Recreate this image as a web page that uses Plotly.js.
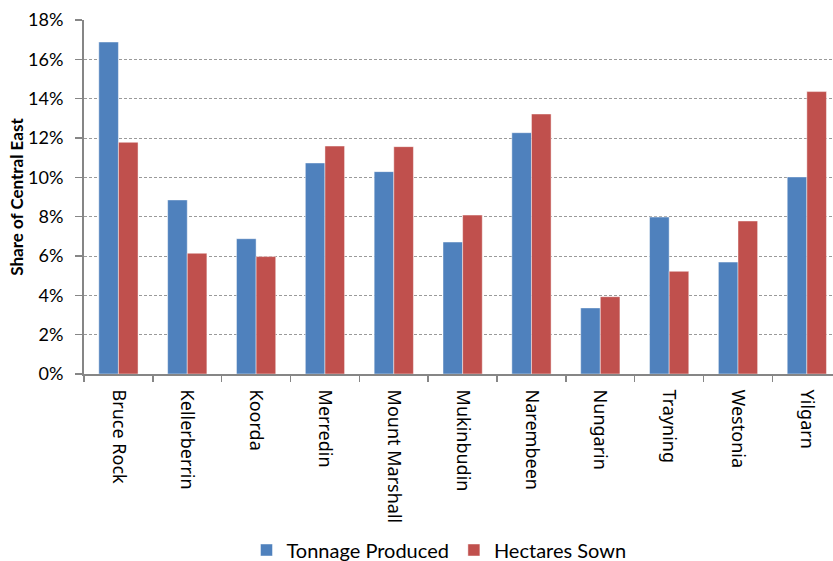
<!DOCTYPE html>
<html>
<head>
<meta charset="utf-8">
<script src="https://cdn.plot.ly/plotly-3.0.1.min.js"></script>
<style>
  html, body { margin: 0; padding: 0; background: #fff; }
  #chart { width: 833px; height: 561px; }
</style>
</head>
<body>
<div id="chart"></div>
<script>
// Shire names across the Central East region
const shires = ["Bruce Rock", "Kellerberrin", "Koorda", "Merredin", "Mount Marshall",
                "Mukinbudin", "Narembeen", "Nungarin", "Trayning", "Westonia", "Yilgarn"];

// Share of the Central East total (fractions)
const tonnageProduced = [0.1688, 0.0885, 0.0688, 0.1073, 0.1029, 0.0671, 0.1227, 0.0336, 0.0798, 0.0569, 0.1002];
const hectaresSown    = [0.1178, 0.0614, 0.0597, 0.1159, 0.1156, 0.0808, 0.1322, 0.0393, 0.0522, 0.0778, 0.1436];

const yTicks = [0, 0.02, 0.04, 0.06, 0.08, 0.10, 0.12, 0.14, 0.16, 0.18];
const yTickText = ["0%", "2%", "4%", "6%", "8%", "10%", "12%", "14%", "16%", "18%"];

const traces = [
  {
    type: "bar", name: "Tonnage Produced", x: shires, y: tonnageProduced,
    marker: { color: "#4F81BD", line: { color: "rgba(255,255,255,0.45)", width: 1 } }
  },
  {
    type: "bar", name: "Hectares Sown", x: shires, y: hectaresSown,
    marker: { color: "#C0504D", line: { color: "rgba(255,255,255,0.45)", width: 1 } }
  }
];

const layout = {
  width: 833, height: 561,
  margin: { l: 84, r: 0, t: 20, b: 187, pad: 0, autoexpand: false },
  paper_bgcolor: "#fff", plot_bgcolor: "#fff",
  barmode: "group", bargap: 0.43, bargroupgap: 0,
  showlegend: true,
  legend: {
    orientation: "h", x: 0.527, xanchor: "center",
    yref: "container", y: 0.0196, yanchor: "middle",
    xref: "container", font: { family: "Lato, sans-serif", size: 20, color: "#000" },
    itemwidth: 30, tracegroupgap: 0
  },
  xaxis: {
    type: "category",
    range: [-0.5, 10.38],
    tickangle: 90,
    tickson: "boundaries",
    ticks: "outside", ticklen: 6, tickcolor: "#868686", tickwidth: 1.5,
    ticklabelstandoff: 10,
    showline: true, linecolor: "#868686", linewidth: 2,
    showgrid: false, zeroline: false,
    tickfont: { family: "Noto Sans, sans-serif", size: 18, color: "#000" },
    fixedrange: true
  },
  yaxis: {
    range: [0, 0.18],
    tickvals: yTicks, ticktext: yTickText,
    ticks: "outside", ticklen: 7, tickcolor: "#868686", tickwidth: 1.5,
    ticklabelstandoff: 8,
    showline: true, linecolor: "#868686", linewidth: 2,
    showgrid: true, gridcolor: "#9a9a9a", gridwidth: 1, griddash: "3px,2px",
    zeroline: false,
    tickfont: { family: "Lato, sans-serif", size: 18, color: "#000" },
    title: { text: "<b>Share of Central East</b>", standoff: 0,
             font: { family: "Lato, sans-serif", size: 17, color: "#000" } },
    fixedrange: true
  }
};

Plotly.newPlot("chart", traces, layout, { displayModeBar: false, staticPlot: true });
</script>
</body>
</html>
